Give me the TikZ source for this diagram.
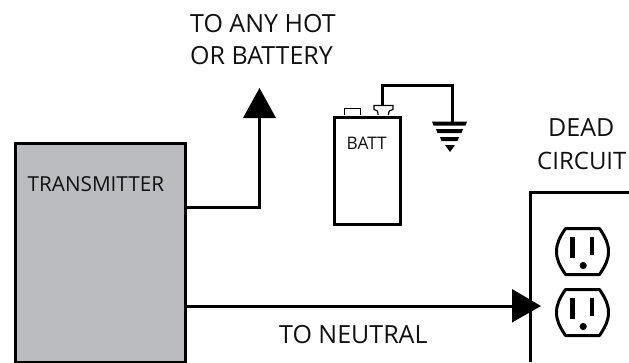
\documentclass[tikz,border=0pt]{standalone}
\usepackage{fontspec}
\setmainfont{Open Sans}
\usetikzlibrary{calc}
\definecolor{boxgray}{HTML}{BBBCC0}
\definecolor{txt}{HTML}{111111}
\tikzset{
  wire/.style={draw=black,line width=3pt,line join=miter},
  lbl/.style={text=txt,inner sep=0pt,anchor=base west,font=\fontsize{25}{30}\selectfont},
  midlbl/.style={text=txt,inner sep=0pt,anchor=base west,font=\fontsize{20.7}{24}\selectfont},
  smalllbl/.style={text=txt,inner sep=0pt,anchor=base west,font=\fontsize{17.3}{20}\selectfont},
  headfill/.style={fill=black,draw=none},
  outlet/.pic={
    \draw[black,line width=3pt,fill=white,line join=round]
      (-17,-23) -- (17,-23) .. controls (23,-14) and (26,-8) .. (26,0)
      .. controls (26,8) and (23,14) .. (17,23) -- (-17,23)
      .. controls (-23,14) and (-26,8) .. (-26,0)
      .. controls (-26,-8) and (-23,-14) .. (-17,-23) -- cycle;
    \fill[black] (-12.5,-15) rectangle (-7.5,6);
    \fill[black] (7,-15) rectangle (11.5,3);
    \fill[black] (0.7,14) circle (3.6);
  }
}
\begin{document}
\begin{tikzpicture}[x=1pt,y=-1pt]
\useasboundingbox (0,0) rectangle (629,362);
% Transmitter
\node[draw=black,line width=3pt,fill=boxgray,minimum width=170pt,minimum height=219pt,inner sep=0pt,anchor=north west] (tx) at (13.5,142) {};
\node[midlbl] (txl) at (27.5,191) {TRANSMITTER};
% Dead circuit box
\coordinate (boxa) at (530,362);
\coordinate (boxb) at (530,192);
\coordinate (boxc) at (629,192);
\draw[wire] (boxa) -- (boxb) -- (boxc);
% Hot connector
\coordinate (hotbase) at (259.5,118);
\coordinate (hottip) at (259.5,88);
\draw[wire] (tx.east |- 0,207) -- (hotbase |- 0,207) -- (hotbase);
\path[headfill] (hottip) -- (276,118) -- (243,118) -- cycle;
% Neutral connector
\coordinate (neubase) at (512,306);
\coordinate (neutip) at (541,306);
\draw[wire] (tx.east |- neubase) -- (neubase);
\path[headfill] (neutip) -- (512,322.5) -- (512,289) -- cycle;
% Outlets
\pic at (582.5,251.5) {outlet};
\pic at (582.5,312.5) {outlet};
% Battery
\node[draw=black,line width=2.8pt,fill=white,minimum width=66pt,minimum height=107pt,inner sep=0pt,anchor=north west] (batt) at (333,116) {};
\node[smalllbl] (battl) at (346.5,149) {BATT};
\draw[black,line width=1.2pt] (344.5,115) -- (344.5,108.5) -- (360.5,108.5) -- (360.5,115);
\draw[black,line width=1.2pt,fill=white] (378,115) .. controls (378,111) and (377,109.5) .. (374,109.5) -- (374,105.5) -- (393,105.5) -- (393,109.5) .. controls (390,109.5) and (388.5,111) .. (388.5,115);
% Ground
\coordinate (post) at (382.5,105);
\coordinate (gnd) at (452,122);
\draw[black,line width=3pt] (post) -- (382.5,85) -- (452,85) -- (gnd);
\fill[black] (432,121.5) -- (467,121.5) -- (465.5,125.5) -- (433.5,125.5) -- cycle;
\fill[black] (436,129) -- (463,129) -- (461.5,133) -- (437.5,133) -- cycle;
\fill[black] (440,137) -- (459,137) -- (457.5,141) -- (441.5,141) -- cycle;
\fill[black] (445,145) -- (455,145) -- (450,152) -- cycle;
% Labels
\node[lbl] (hotl) at (190,32) {TO ANY HOT};
\node[lbl] (batl) at (190,64) {OR BATTERY};
\node[lbl] (deadl) at (548,136) {DEAD};
\node[lbl,font=\fontsize{24}{30}\selectfont] (circl) at (537,169) {CIRCUIT};
\node[lbl] (neul) at (279,343) {TO NEUTRAL};
\end{tikzpicture}
\end{document}
